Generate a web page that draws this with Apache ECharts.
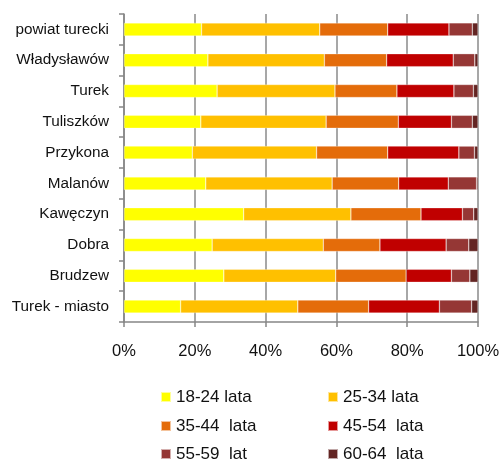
<!DOCTYPE html>
<html><head><meta charset="utf-8">
<script src="https://cdn.jsdelivr.net/npm/echarts@6/dist/echarts.min.js"></script>
<style>html,body{margin:0;padding:0;background:#fff}#c{width:503px;height:463px}</style>
</head><body><div id="c"></div>
<script>
const categories = ['powiat turecki','Władysławów','Turek','Tuliszków','Przykona','Malanów','Kawęczyn','Dobra','Brudzew','Turek - miasto'];
const seriesNames = ['18-24 lata','25-34 lata','35-44  lata','45-54  lata','55-59  lat','60-64  lata'];
const s1824 = [21.9, 23.7, 26.3, 21.7, 19.3, 23.1, 33.8, 24.9, 28.2, 16.0];
const s2534 = [33.4, 32.9, 33.3, 35.4, 35.1, 35.7, 30.3, 31.4, 31.6, 33.1];
const s3544 = [19.2, 17.6, 17.5, 20.4, 20.1, 18.8, 19.8, 16.0, 19.9, 20.0];
const s4554 = [17.3, 18.8, 16.1, 15.0, 20.1, 14.0, 11.7, 18.7, 12.8, 20.0];
const s5559 = [6.6, 6.1, 5.5, 5.9, 4.4, 8.0, 3.2, 6.4, 5.2, 9.1];
const s6064 = [1.6, 0.9, 1.3, 1.6, 1.0, 0.4, 1.2, 2.6, 2.3, 1.8];
const xTicks = [0, 20, 40, 60, 80, 100];
const colors = ['#FFFF00','#FFC000','#E46C0A','#C00000','#953735','#632523'];
const allData = [s1824, s2534, s3544, s4554, s5559, s6064];

const chart = echarts.init(document.getElementById('c'));
const font = 'Liberation Sans, Arial, sans-serif';
const legendLefts = [160, 327];
const legendTops = [388, 417, 445];
const legends = seriesNames.map((n, i) => ({
  orient: 'horizontal', left: legendLefts[i % 2], top: legendTops[Math.floor(i / 2)],
  itemWidth: 10, itemHeight: 10, itemGap: 0, icon: 'rect', padding: 0,
  textStyle: {fontFamily: font, fontSize: 17, color: '#111', lineHeight: 18, padding: [0, 0, 0, 0]},
  data: [n]
}));
chart.setOption({
  animation: false,
  color: colors,
  grid: {left: 124, right: 25, top: 14, bottom: 141},
  xAxis: {
    type: 'value', min: 0, max: 100, interval: 20,
    axisLine: {show: true, lineStyle: {color: '#868686', width: 1.5}},
    axisTick: {show: true, length: 5, lineStyle: {color: '#868686', width: 1.5}},
    splitLine: {show: true, lineStyle: {color: '#8a8a8a', width: 1.5}},
    axisLabel: {formatter: v => xTicks.includes(v) ? v + '%' : '', fontFamily: font, fontSize: 16.5, color: '#111', margin: 21}
  },
  yAxis: {
    type: 'category', data: categories, inverse: true,
    axisLine: {show: true, lineStyle: {color: '#868686', width: 1.5}},
    axisTick: {show: true, length: 5, lineStyle: {color: '#868686', width: 1.5}},
    axisLabel: {fontFamily: font, fontSize: 15.3, color: '#111', margin: 15}
  },
  legend: legends,
  series: seriesNames.map((n, i) => ({
    name: n, type: 'bar', stack: 'all', data: allData[i], barWidth: 13,
    itemStyle: {color: colors[i], borderColor: 'rgba(255,255,255,0.6)', borderWidth: 0.5}
  }))
});
</script></body></html>
